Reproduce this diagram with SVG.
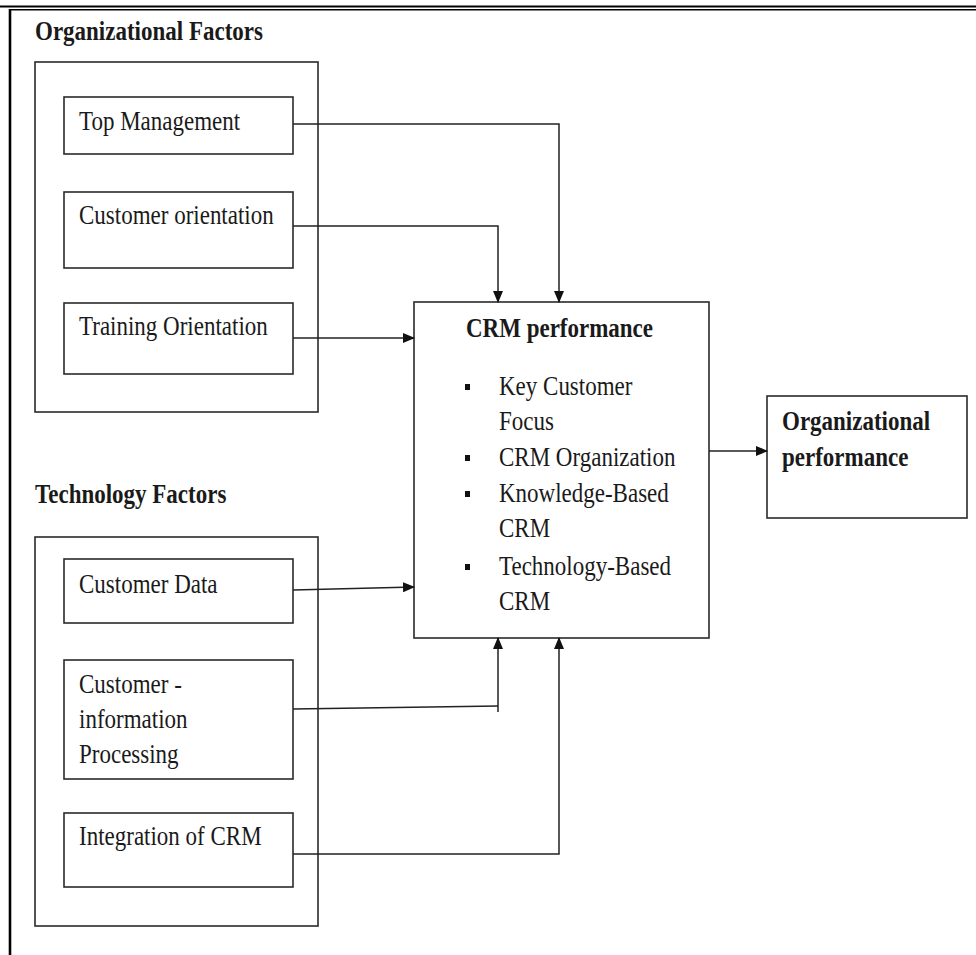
<svg xmlns="http://www.w3.org/2000/svg" width="976" height="955" viewBox="0 0 976 955">
<defs>
<style>
.t{font-family:"Liberation Serif","Times New Roman",serif;font-size:23px;fill:#1a1a1a}
.b{font-weight:bold}
.box{fill:#fff;stroke:#2a2a2a;stroke-width:1.6}
.grp{fill:none;stroke:#2a2a2a;stroke-width:1.6}
.c{fill:none;stroke:#222;stroke-width:1.5}
.bul{fill:#111}
</style>
<marker id="ah" markerWidth="12" markerHeight="10" refX="11" refY="5" orient="auto" markerUnits="userSpaceOnUse">
<path d="M0,0 L12,5 L0,10 Z" fill="#111"/>
</marker>
</defs>
<rect width="976" height="955" fill="#fff"/>
<g id="frame">
<line x1="0" y1="6.5" x2="976" y2="6.5" stroke="#000" stroke-width="2"/>
<line x1="10" y1="9.8" x2="976" y2="9.8" stroke="#000" stroke-width="1.5"/>
<line x1="10" y1="9" x2="10" y2="955" stroke="#000" stroke-width="2.6"/>
</g>
<g id="org-factors">
<text class="t b" transform="translate(35,40) scale(1,1.2)">Organizational Factors</text>
<rect class="grp" x="35" y="62" width="283" height="350"/>
</g>
<g id="top-management">
<rect class="box" x="64" y="97" width="229" height="57"/>
<text class="t" transform="translate(79,130) scale(1,1.2)">Top Management</text>
</g>
<g id="customer-orientation">
<rect class="box" x="64" y="192" width="229" height="76"/>
<text class="t" transform="translate(79,224) scale(1,1.2)">Customer orientation</text>
</g>
<g id="training-orientation">
<rect class="box" x="64" y="303" width="229" height="71"/>
<text class="t" transform="translate(79,335) scale(1,1.2)">Training  Orientation</text>
</g>
<g id="tech-factors">
<text class="t b" transform="translate(35,503) scale(1,1.2)">Technology Factors</text>
<rect class="grp" x="35" y="537" width="283" height="389"/>
</g>
<g id="customer-data">
<rect class="box" x="64" y="559" width="229" height="64"/>
<text class="t" transform="translate(79,593) scale(1,1.2)">Customer Data</text>
</g>
<g id="customer-info">
<rect class="box" x="64" y="660" width="229" height="119"/>
<text class="t" transform="translate(79,693) scale(1,1.2)">Customer -</text>
<text class="t" transform="translate(79,728) scale(1,1.2)">information</text>
<text class="t" transform="translate(79,763) scale(1,1.2)">Processing</text>
</g>
<g id="integration">
<rect class="box" x="64" y="813" width="229" height="74"/>
<text class="t" transform="translate(79,845) scale(1,1.2)">Integration of CRM</text>
</g>
<g id="crm-performance">
<rect class="box" x="414" y="302" width="295" height="336"/>
<text class="t b" transform="translate(466,337) scale(1,1.2)">CRM performance</text>
<rect class="bul" x="465" y="384" width="5" height="6"/>
<text class="t" transform="translate(499,395) scale(1,1.2)">Key Customer</text>
<text class="t" transform="translate(499,430) scale(1,1.2)">Focus</text>
<rect class="bul" x="465" y="455" width="5" height="6"/>
<text class="t" transform="translate(499,466) scale(1,1.2)">CRM Organization</text>
<rect class="bul" x="465" y="491" width="5" height="6"/>
<text class="t" transform="translate(499,502) scale(1,1.2)">Knowledge-Based</text>
<text class="t" transform="translate(499,537) scale(1,1.2)">CRM</text>
<rect class="bul" x="465" y="564" width="5" height="6"/>
<text class="t" transform="translate(499,575) scale(1,1.2)">Technology-Based</text>
<text class="t" transform="translate(499,610) scale(1,1.2)">CRM</text>
</g>
<g id="org-performance">
<rect class="box" x="767" y="396" width="200" height="122"/>
<text class="t b" transform="translate(782,430) scale(1,1.2)">Organizational</text>
<text class="t b" transform="translate(782,466) scale(1,1.2)">performance</text>
</g>
<g id="connectors">
<polyline class="c" points="293,124 559,124 559,302" marker-end="url(#ah)"/>
<polyline class="c" points="293,226 498,226 498,302" marker-end="url(#ah)"/>
<line class="c" x1="293" y1="338" x2="414" y2="338" marker-end="url(#ah)"/>
<line class="c" x1="293" y1="590" x2="414" y2="587" marker-end="url(#ah)"/>
<line class="c" x1="293" y1="709" x2="498" y2="706"/>
<line class="c" x1="498" y1="712" x2="498" y2="638" marker-end="url(#ah)"/>
<polyline class="c" points="293,854 559,854 559,638" marker-end="url(#ah)"/>
<line class="c" x1="709" y1="451" x2="767" y2="451" marker-end="url(#ah)"/>
</g>
</svg>
